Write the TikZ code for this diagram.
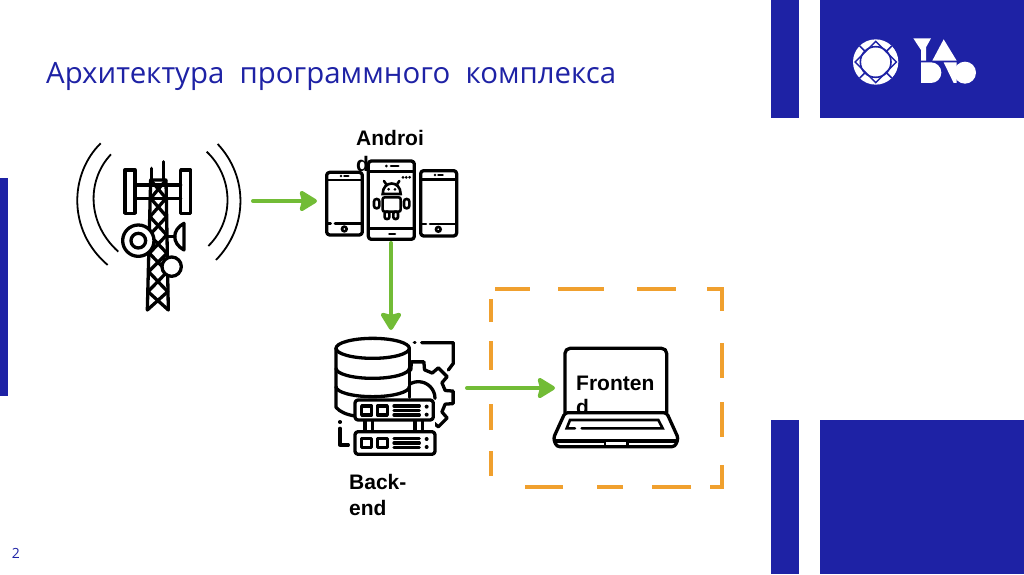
\documentclass[tikz,border=0pt]{standalone}
\usepackage{fontspec}
\usepackage{xcolor}
\usetikzlibrary{arrows.meta}
\setmainfont{Open Sans}
\newfontfamily\labelfont{Liberation Sans}[Scale=1]
\definecolor{yadroblue}{HTML}{1E22A5}
\definecolor{arrowgreen}{HTML}{72BC36}
\definecolor{frameorange}{HTML}{F0A02E}

\begin{document}
\begin{tikzpicture}[x=1pt, y=-1pt,
    anchorbox/.style={inner sep=0pt, outer sep=0pt},
    flowarrow/.style={-{Stealth[length=20pt, width=24pt, inset=3pt, round]}, arrowgreen, line width=4pt, line cap=round},
    iconline/.style={line width=3.3pt, line join=round, line cap=round},
    thinline/.style={line width=2.6pt, line cap=round},
    bluebar/.style={fill=yadroblue, draw=none},
    boxlabel/.style={anchor=north west, inner sep=0pt, align=left, font=\labelfont\bfseries\fontsize{21}{26}\selectfont}]
    \useasboundingbox (0,0) rectangle (1024,574);

    % Bars
    \fill[bluebar] (0,178) rectangle (8,396);
    \fill[bluebar] (771,0) rectangle (799,118);
    \fill[bluebar] (820,0) rectangle (1024,118);
    \fill[bluebar] (771,420) rectangle (799,574);
    \fill[bluebar] (820,420) rectangle (1024,574);

    % Title and page number
    \node[anchor=west, inner sep=0pt, text=yadroblue, font=\fontsize{29.4}{34}\selectfont] (title) at (46,76) {Архитектура\ \ программного\ \ комплекса};
    \node[inner sep=0pt, text=yadroblue, font=\fontsize{14}{16}\selectfont] (pagenum) at (16,553) {2};

    % Logo
    \begin{scope}[shift={(845,30)}, x=0.3333pt, y=-0.3333pt]
        \fill[white] (92,96) circle[radius=68];
        \draw[yadroblue, line width=1.4pt] (92,34) -- (154,96) -- (92,158) -- (30,96) -- cycle;
        \draw[yadroblue, line width=1.6pt] (92,96) circle[radius=46];
        \draw[yadroblue, line width=1.6pt] (44,48) -- (62,66) (140,48) -- (122,66) (44,144) -- (62,126) (140,144) -- (122,126);
        \fill[white] (92,96) circle[radius=34];
        \fill[white] (205,25) -- (258,25) -- (243,52) -- (243,92) -- (228,92) -- (228,60) -- cycle;
        \fill[white] (262,92) -- (296,28) -- (335,92) -- cycle;
        \fill[white] (228,97) -- (258,97) arc[start angle=-90, end angle=90, radius=31] -- (228,159) -- cycle;
        \fill[white] (296,97) -- (335,97) -- (335,159) -- (326,159) -- cycle;
        \fill[white] (360,128) circle[radius=33];
    \end{scope}

    % Labels
    \node[boxlabel] (androidlabel) at (356,130) {Androi\\d};
    \node[boxlabel] (backendlabel) at (349,474) {Back-\\end};
    \node[boxlabel] (frontendlabel) at (576,376) {Fronten\\[-2pt]d};

    % Tower
    \begin{scope}[shift={(60,120)}, x=0.3333pt, y=-0.3333pt]
        \draw[line width=1.8pt] (122,70) .. controls (30,160) and (20,330) .. (143,435);
        \draw[line width=1.8pt] (153,103) .. controls (80,180) and (80,310) .. (175,395);
        \draw[line width=1.8pt] (440,95) .. controls (520,170) and (525,300) .. (445,378);
        \draw[line width=1.8pt] (473,72) .. controls (565,170) and (565,320) .. (468,420);
        \draw[iconline] (262,570) -- (272,180) -- (318,180) -- (325,570);
        \draw[iconline] (272,180) -- (318,235) -- (270,290) -- (320,345) -- (268,400) -- (322,455) -- (264,515) -- (325,570);
        \draw[iconline] (318,180) -- (272,235) -- (320,290) -- (269,345) -- (321,400) -- (266,455) -- (323,515) -- (262,570);
        \draw[iconline] (310,125) -- (310,180);
        \draw[iconline] (275,145) -- (275,180);
        \draw[iconline] (195,150) rectangle (225,280);
        \draw[iconline] (362,150) rectangle (392,280);
        \draw[iconline] (225,195) -- (362,195);
        \draw[iconline] (225,235) -- (362,235);
        \draw[iconline, fill=white] (235,362) circle[radius=47];
        \draw[iconline] (235,362) circle[radius=22];
        \draw[iconline, fill=white] (372,310) .. controls (335,330) and (335,370) .. (372,390) -- cycle;
        \draw[iconline] (320,350) -- (345,350);
        \draw[iconline, fill=white] (335,440) circle[radius=29];
    \end{scope}

    % Phones
    \begin{scope}[shift={(310,120)}, x=0.3333pt, y=-0.3333pt]
        \draw[iconline, rounded corners=3pt] (50,157) rectangle (157,345);
        \draw[thinline] (50,180) -- (157,180);
        \draw[thinline] (50,310) -- (62,310) (75,310) -- (157,310);
        \draw[thinline] (103,168) -- (115,168);
        \fill (93,168) circle[radius=4];
        \draw[thinline] (103,327) circle[radius=7];
        \draw[iconline, rounded corners=3pt] (332,152) rectangle (440,348);
        \draw[thinline] (332,178) -- (440,178);
        \draw[thinline] (332,312) -- (348,312) (360,312) -- (440,312);
        \draw[thinline] (385,165) -- (398,165);
        \fill (375,165) circle[radius=4];
        \draw[thinline] (385,328) circle[radius=7];
        \draw[iconline, rounded corners=3pt, fill=white] (175,123) rectangle (313,358);
        \draw[thinline] (175,155) -- (313,155);
        \draw[thinline] (175,325) -- (313,325);
        \draw[thinline] (243,138) -- (265,138);
        \fill (229,138) circle[radius=4.5];
        \draw[thinline] (238,342) -- (255,342);
        \fill (279,172) circle[radius=4.5] (289,172) circle[radius=4.5] (299,172) circle[radius=4.5];
        % Robot
        \draw[thinline] (218,222) .. controls (218,180) and (272,180) .. (272,222) -- cycle;
        \draw[thinline] (228,192) -- (222,183) (262,192) -- (268,183);
        \fill (236,208) circle[radius=4.5] (255,208) circle[radius=4.5];
        \draw[thinline, rounded corners=2pt] (218,232) rectangle (272,275);
        \draw[thinline, rounded corners=2.5pt] (192,237) rectangle (208,265);
        \draw[thinline, rounded corners=2.5pt] (282,237) rectangle (298,265);
        \draw[thinline, rounded corners=2pt] (224,275) rectangle (238,297);
        \draw[thinline, rounded corners=2pt] (250,275) rectangle (264,297);
    \end{scope}

    % Backend
    \begin{scope}[shift={(320,320)}, x=0.3333pt, y=-0.3333pt]
        \draw[iconline] (283,68) -- (285,68);
        \draw[iconline] (305,68) -- (400,68) -- (400,130) -- (385,150);
        \draw[iconline] (60,305) -- (60,307);
        \draw[iconline] (60,325) -- (60,375) -- (85,375);
        \begin{scope}[shift={(293,232)}]
            \draw[iconline, fill=white] (-14:85) \foreach \a in {0,45,...,315} {-- (\a-14:85) -- (\a-10:108) -- (\a+10:108) -- (\a+14:85)} -- cycle;
        \end{scope}
        \draw[iconline] (245,235) arc[start angle=180, end angle=360, radius=50];
        \fill[white] (48,85) -- (48,262) -- (105,290) -- (268,290) -- (268,85) -- cycle;
        \fill[white] (105,300) rectangle (345,345);
        \draw[iconline] (48,85) -- (48,262) .. controls (60,276) and (80,284) .. (105,288);
        \draw[iconline] (268,85) -- (268,232);
        \draw[iconline, fill=white] (158,85) ellipse[x radius=110, y radius=30];
        \draw[iconline] (48,145) arc[start angle=180, end angle=0, x radius=110, y radius=30];
        \draw[iconline] (48,200) arc[start angle=180, end angle=0, x radius=110, y radius=30];
        \draw[iconline] (135,300) -- (135,335) (157,300) -- (157,335);
        \draw[iconline] (285,300) -- (285,335) (307,300) -- (307,335);
        \draw[iconline, fill=white, rounded corners=3pt] (105,240) rectangle (340,300);
        \draw[iconline, fill=white, rounded corners=3pt] (105,335) rectangle (345,403);
        \draw[iconline, fill=white] (125,258) rectangle (155,285);
        \draw[iconline, fill=white] (172,258) rectangle (202,285);
        \draw[iconline] (222,258) -- (298,258) (222,272) -- (298,272) (222,285) -- (298,285);
        \fill (320,260) circle[radius=6] (320,284) circle[radius=6];
        \draw[iconline, fill=white] (125,355) rectangle (155,382);
        \draw[iconline, fill=white] (172,355) rectangle (202,382);
        \draw[iconline] (222,355) -- (298,355) (222,369) -- (298,369) (222,382) -- (298,382);
        \fill (320,357) circle[radius=6] (320,381) circle[radius=6];
    \end{scope}

    % Laptop
    \begin{scope}[shift={(540,330)}, x=0.3333pt, y=-0.3333pt]
        \draw[iconline, rounded corners=5pt] (75,248) -- (75,55) -- (380,55) -- (380,248);
        \draw[iconline, fill=white, rounded corners=3pt] (75,248) -- (380,248) -- (415,325) -- (405,350) -- (50,350) -- (40,325) -- cycle;
        \draw[iconline] (45,333) -- (410,333);
        \draw[thinline, fill=white] (195,333) rectangle (262,350);
        \draw[thinline] (105,295) -- (80,295) -- (90,270) -- (355,270) -- (368,295) -- (125,295);
    \end{scope}

    % Frontend frame
    \draw[frameorange, line width=4.4pt, dash pattern=on 35pt off 28pt on 46pt off 33pt on 39pt off 31pt on 37pt off 32pt on 35pt off 24pt on 35pt off 28pt on 34pt off 19pt on 39pt off 29pt on 26pt off 34pt on 38pt off 45pt on 25pt off 21pt on 26pt off 34pt on 29pt off 19pt on 23pt off 15pt]
        (495,289) -| (722,487) -| (491,289) -- cycle;

    % Anchors of the icons
    \node[anchorbox, minimum width=178pt, minimum height=116pt] (tower) at (164,201) {};
    \node[anchorbox, minimum width=148pt, minimum height=84pt] (phones) at (391,201) {};
    \node[anchorbox, minimum width=152pt, minimum height=116pt] (backend) at (391,388) {};
    \node[anchorbox, minimum width=125pt, minimum height=110pt] (frontend) at (617.5,388) {};

    % Arrows
    \draw[flowarrow] (tower.east) -- (phones.west);
    \draw[flowarrow] (phones.south) -- (backend.north);
    \draw[flowarrow] (backend.east) -- (frontend.west);
\end{tikzpicture}
\end{document}
